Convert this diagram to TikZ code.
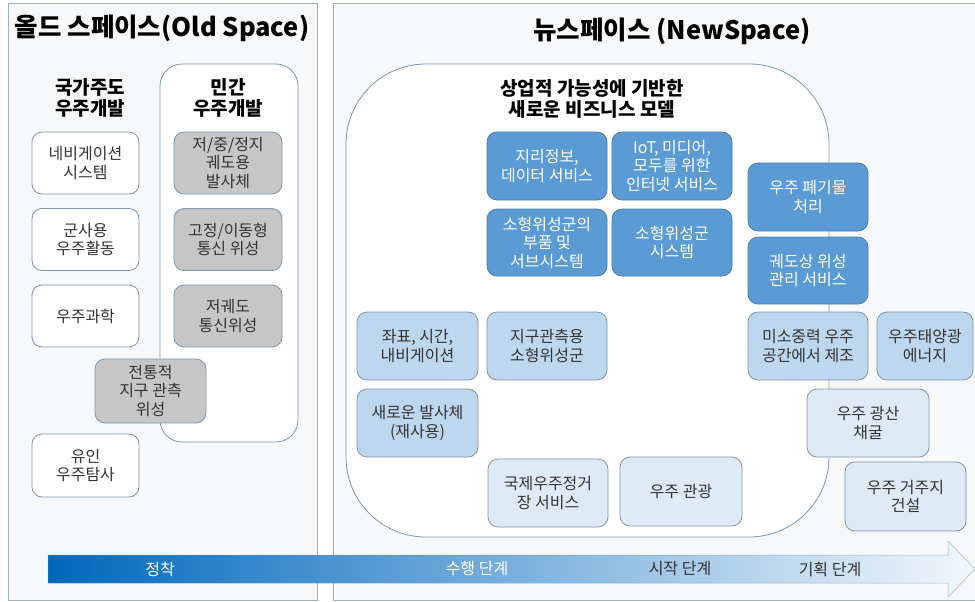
\documentclass[tikz,border=0pt]{standalone}
\usepackage{fontspec}
\setmainfont{Noto Sans CJK KR}
\definecolor{panelbg}{HTML}{F7F8FA}
\definecolor{panelline}{HTML}{9AB0C6}
\definecolor{boxline}{HTML}{7F95AC}
\definecolor{graybox}{HTML}{C6C6C6}
\definecolor{darkblue}{HTML}{5B9BD5}
\definecolor{darkblueline}{HTML}{4A7EB0}
\definecolor{lightblue}{HTML}{BDD7EE}
\definecolor{paleblue}{HTML}{DEEBF7}
\definecolor{txt}{HTML}{333333}
\definecolor{arrowL}{HTML}{0068BD}
\definecolor{arrowM}{HTML}{80B5E4}
\definecolor{arrowR}{HTML}{F2F7FC}
\begin{document}
\begin{tikzpicture}[x=1pt,y=-1pt,
  basebox/.style={rounded corners=10pt, line width=0.8pt, align=center,
    font=\fontsize{16}{18.5}\selectfont, inner sep=0pt},
  wbox/.style={basebox, draw=boxline, fill=white, text=txt, minimum width=107, minimum height=62},
  gbox/.style={basebox, draw=boxline, fill=graybox, text=txt, minimum width=108, minimum height=62},
  dbox/.style={basebox, draw=darkblueline, fill=darkblue, text=white, minimum width=120, minimum height=68},
  lbox/.style={basebox, draw=boxline, fill=lightblue, text=txt, minimum width=121, minimum height=68},
  pbox/.style={basebox, draw=boxline, fill=paleblue, text=txt, minimum width=121, minimum height=68},
  bigtitle/.style={font=\fontsize{25.5}{30}\selectfont\bfseries, text=black},
  subtitle/.style={font=\fontsize{19}{20.5}\selectfont\bfseries, text=black, align=center},
  steplabel/.style={font=\fontsize{16}{18}\selectfont}
]
\useasboundingbox (0,0) rectangle (975,602);
\fill[white] (0,0) rectangle (975,602);

% panels
\draw[panelline, fill=panelbg, line width=0.8pt] (8,3) rectangle (317,600);
\draw[panelline, fill=panelbg, line width=0.8pt] (333,3) rectangle (985,600);

% titles
\node[bigtitle] (oldtitle) at (162,28) {올드 스페이스(Old Space)};
\node[bigtitle] (newtitle) at (672,31) {뉴스페이스 (NewSpace)};

% private development container
\draw[boxline, fill=white, line width=0.8pt, rounded corners=22pt] (160,64) rectangle (298,442);
% new business model container
\draw[boxline, fill=white, line width=0.8pt, rounded corners=80pt] (346,64) rectangle (829,537);

\node[subtitle] (gov) at (90,98) {국가주도\\우주개발};
\node[subtitle] (priv) at (228,98) {민간\\우주개발};
\node[subtitle] (biz) at (592,99) {상업적 가능성에 기반한\\새로운 비즈니스 모델};

% old space boxes
\node[wbox] (nav) at (85.5,163) {네비게이션\\시스템};
\node[wbox] (mil) at (85.5,239.5) {군사용\\우주활동};
\node[wbox] (sci) at (85.5,316) {우주과학};
\node[wbox, minimum height=63] (manned) at (85.5,465.5) {유인\\우주탐사};

\node[gbox] (launch) at (228,163) {저/중/정지\\궤도용\\발사체};
\node[gbox] (comm) at (228,239.5) {고정/이동형\\통신 위성};
\node[gbox] (leo) at (228,316) {저궤도\\통신위성};
\node[gbox, minimum width=111, minimum height=64] (trad) at (150.5,391) {전통적\\지구 관측\\위성};

% new space boxes
\node[dbox] (geo) at (547,166) {지리정보,\\데이터 서비스};
\node[dbox] (iot) at (672,166) {IoT, 미디어,\\모두를 위한\\인터넷 서비스};
\node[dbox, minimum height=67] (parts) at (547,242.5) {소형위성군의\\부품 및\\서브시스템};
\node[dbox, minimum height=67] (cons) at (672,242.5) {소형위성군\\시스템};
\node[dbox] (debris) at (808,197) {우주 폐기물\\처리};
\node[dbox, minimum height=67] (orbit) at (808,270.5) {궤도상 위성\\관리 서비스};

\node[lbox] (pnt) at (417.5,346) {좌표, 시간,\\내비게이션};
\node[lbox, minimum width=120] (eo) at (547,346) {지구관측용\\소형위성군};
\node[lbox] (newlv) at (417.5,423) {새로운 발사체\\(재사용)};
\node[lbox, minimum width=120] (micro) at (808,346) {미소중력 우주\\공간에서 제조};
\node[lbox, minimum width=96] (solar) at (925,346) {우주태양광\\에너지};

\node[pbox, minimum width=120] (iss) at (548,493) {국제우주정거\\장 서비스};
\node[pbox, minimum width=122, minimum height=69] (tour) at (681,491.5) {우주 관광};
\node[pbox, minimum width=122] (mining) at (868,423) {우주 광산\\채굴};
\node[pbox, minimum width=121, minimum height=69] (habitat) at (905.5,496.5) {우주 거주지\\건설};

% stage arrow
\shade[left color=arrowL, middle color=arrowM, right color=arrowR]
  (48,555) -- (948,555) -- (948,541) -- (975,569) -- (948,597) -- (948,583) -- (48,583) -- cycle;
\draw[draw=arrowM!80!black, line width=0.5pt, opacity=0.6]
  (48,555) -- (948,555) -- (948,541) -- (975,569) -- (948,597) -- (948,583) -- (48,583) -- cycle;

\node[steplabel, text=white] (s1) at (160,569) {정착};
\node[steplabel, text=white] (s2) at (477,569) {수행 단계};
\node[steplabel, text=txt] (s3) at (680,569) {시작 단계};
\node[steplabel, text=txt] (s4) at (830,569) {기획 단계};
\end{tikzpicture}
\end{document}
